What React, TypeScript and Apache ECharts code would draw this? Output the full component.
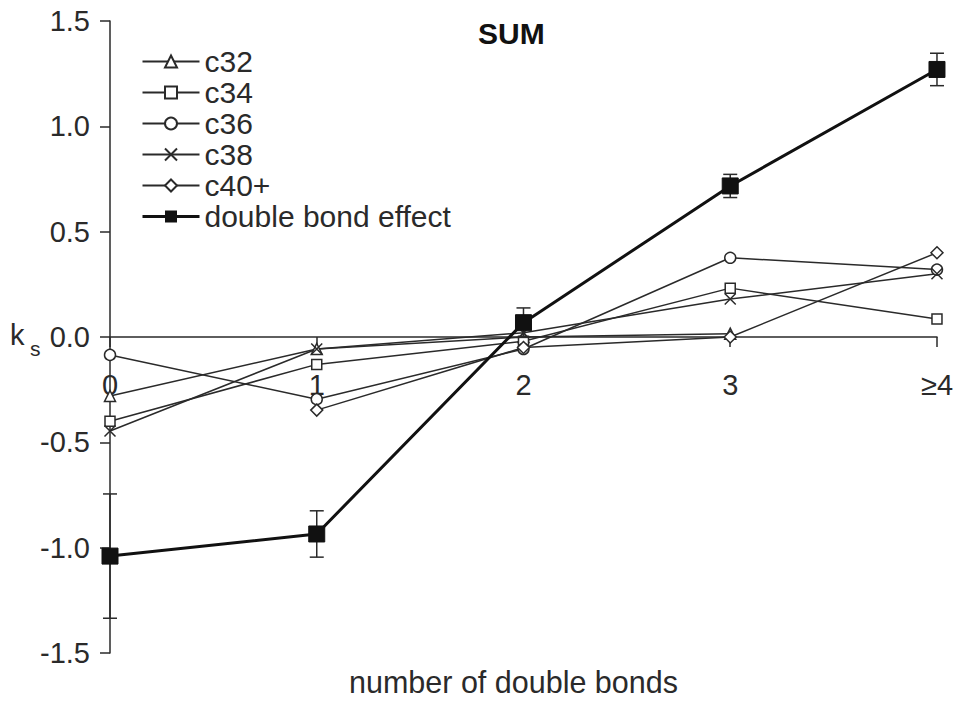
import React, { useEffect, useRef } from "react";
import * as echarts from "echarts";

const categories = ["0", "1", "2", "3", "≥4"];
const c32 = [-0.28, -0.057, 0.0, 0.016, null];
const c34 = [-0.4, -0.13, -0.02, 0.232, 0.085];
const c36 = [-0.085, -0.295, -0.057, 0.376, 0.32];
const c38 = [-0.446, -0.057, 0.02, 0.18, 0.3];
const c40 = [null, -0.347, -0.05, 0.0, 0.4];
const doubleBond = [-1.04, -0.935, 0.068, 0.717, 1.27];
const doubleBondErr = [0.295, 0.11, 0.07, 0.055, 0.077];
const yTicks = { min: -1.5, max: 1.5, step: 0.5 };

const INK = "#2a2a2a";
const FONT = "'Liberation Sans', Arial, sans-serif";

export default function App() {
  const ref = useRef<HTMLDivElement>(null);
  useEffect(() => {
    if (!ref.current) return;
    document.body.style.margin = "0";
    const chart = echarts.init(ref.current, null, { renderer: "svg" });
    const thin = (name: string, data: (number | null)[], symbol: string, size: number) => ({
      name,
      type: "line",
      data,
      symbol,
      symbolSize: size,
      connectNulls: false,
      lineStyle: { color: INK, width: 1.5 },
      itemStyle: { color: "#fff", borderColor: INK, borderWidth: 1.5 },
      z: 3,
    });
    const gridTop = 21;
    const gridBottom = 51;
    const plotH = 704 - gridTop - gridBottom;
    chart.setOption({
      animation: false,
      textStyle: { fontFamily: FONT },
      title: {
        text: "SUM",
        left: 473,
        top: 13,
        textStyle: { fontSize: 30, fontWeight: "bold", color: "#111", fontFamily: FONT },
      },
      grid: { left: 110, right: 19, top: gridTop, bottom: gridBottom, containLabel: false },
      legend: {
        orient: "vertical",
        left: 136,
        top: 41,
        padding: 5,
        itemWidth: 57,
        itemHeight: 15,
        itemGap: 0,
        data: [
          "c32",
          "c34",
          "c36",
          "c38",
          "c40+",
          { name: "double bond effect", lineStyle: { width: 3 } },
        ],
        textStyle: { fontSize: 30, color: INK, lineHeight: 31, fontFamily: FONT },
      },
      xAxis: {
        type: "category",
        data: categories,
        boundaryGap: false,
        offset: -plotH / 2,
        axisLine: { onZero: false, lineStyle: { color: INK, width: 1.5 } },
        axisTick: { show: true, length: 10, lineStyle: { color: INK, width: 1.5 } },
        axisLabel: { interval: 0, fontSize: 29, color: INK, margin: 33, fontFamily: FONT },
        splitLine: { show: false },
      },
      yAxis: {
        type: "value",
        min: yTicks.min,
        max: yTicks.max,
        interval: yTicks.step,
        axisLine: { show: true, lineStyle: { color: INK, width: 1.5 } },
        axisTick: { show: true, length: 10, lineStyle: { color: INK, width: 1.5 } },
        axisLabel: {
          fontSize: 29,
          color: INK,
          margin: 20,
          fontFamily: FONT,
          formatter: (v: number) => v.toFixed(1),
        },
        splitLine: { show: false },
      },
      graphic: [
        {
          type: "text",
          left: 10,
          top: 320,
          style: { text: "k", fontSize: 29, fill: INK, fontFamily: FONT },
        },
        {
          type: "text",
          left: 30,
          top: 338,
          style: { text: "s", fontSize: 21, fill: INK, fontFamily: FONT },
        },
        {
          type: "text",
          left: 349,
          top: 666,
          style: { text: "number of double bonds", fontSize: 30.5, fill: INK, fontFamily: FONT },
        },
      ],
      series: [
        thin("c32", c32, "triangle", 11),
        thin("c34", c34, "rect", 10),
        thin("c36", c36, "circle", 11),
        thin("c38", c38, "path://M0,0L10,10M10,0L0,10", 11),
        thin("c40+", c40, "diamond", 12),
        {
          name: "errorbars",
          type: "custom",
          z: 4,
          data: doubleBond.map((v, i) => [i, v, doubleBondErr[i]]),
          renderItem: (params: any, api: any) => {
            const x = api.value(0);
            const y = api.value(1);
            const e = api.value(2);
            const top = api.coord([x, y + e]);
            const bot = api.coord([x, y - e]);
            const hw = 7;
            const st = { stroke: INK, lineWidth: 1.5 };
            return {
              type: "group",
              children: [
                { type: "line", shape: { x1: top[0], y1: top[1], x2: bot[0], y2: bot[1] }, style: st },
                { type: "line", shape: { x1: top[0] - hw, y1: top[1], x2: top[0] + hw, y2: top[1] }, style: st },
                { type: "line", shape: { x1: bot[0] - hw, y1: bot[1], x2: bot[0] + hw, y2: bot[1] }, style: st },
              ],
            };
          },
        },
        {
          name: "double bond effect",
          type: "line",
          data: doubleBond,
          symbol: "rect",
          symbolSize: 16,
          lineStyle: { color: "#111", width: 3 },
          itemStyle: { color: "#111", borderColor: "#111" },
          z: 5,
        },
      ],
    });
    return () => chart.dispose();
  }, []);
  return <div ref={ref} style={{ width: 956, height: 704 }} />;
}
